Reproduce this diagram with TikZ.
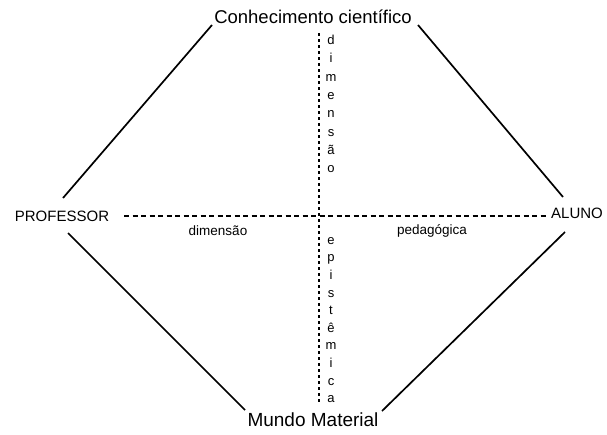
\documentclass[tikz,border=0pt]{standalone}
\usepackage{fontspec}
\setmainfont{Liberation Sans}
\begin{document}
\begin{tikzpicture}[x=1pt,y=-1pt,
  big/.style={font=\fontsize{18.5}{21}\selectfont, inner sep=1pt},
  caps/.style={font=\fontsize{15}{17}\selectfont, inner sep=1pt},
  small/.style={font=\fontsize{13.5}{15}\selectfont, inner sep=1pt},
  solidline/.style={line width=1.7pt, black},
  hdash/.style={line width=1.6pt, dash pattern=on 5pt off 3.5pt},
  vdash/.style={line width=1.8pt, dash pattern=on 3pt off 3pt},
  vtext/.style={align=center, inner sep=0pt}]
\useasboundingbox (0,0) rectangle (607,434);
\node[big] (ck) at (313,17) {Conhecimento científico};
\node[big, font=\fontsize{19}{21}\selectfont] (mm) at (313,420) {Mundo Material};
\node[caps] (prof) at (62,216) {PROFESSOR};
\node[caps] (al) at (577,213) {ALUNO};
\node[small] (dim) at (218,231) {dimensão};
\node[small] (ped) at (432,231) {pedagógica};
\node[vtext, font=\fontsize{13}{18.3}\selectfont] (vd) at (331,104) {d\\i\\m\\e\\n\\s\\ã\\o};
\node[vtext, font=\fontsize{13}{17.6}\selectfont] (ve) at (331,320) {e\\p\\i\\s\\t\\ê\\m\\i\\c\\a};
\coordinate (tl1) at (212,25); \coordinate (tl2) at (63,198);
\coordinate (tr1) at (418,25); \coordinate (tr2) at (563,197);
\coordinate (bl1) at (68,233); \coordinate (bl2) at (245,410);
\coordinate (br1) at (565,232); \coordinate (br2) at (382,411);
\coordinate (vt) at (319,33); \coordinate (vb) at (319,402);
\coordinate (hl) at (124,216); \coordinate (hr) at (546,216);
\draw[solidline] (tl1) -- (tl2);
\draw[solidline] (tr1) -- (tr2);
\draw[solidline] (bl1) -- (bl2);
\draw[solidline] (br1) -- (br2);
\draw[hdash] (hl) -- (hr);
\draw[vdash] (vt) -- (vb);
\end{tikzpicture}
\end{document}
